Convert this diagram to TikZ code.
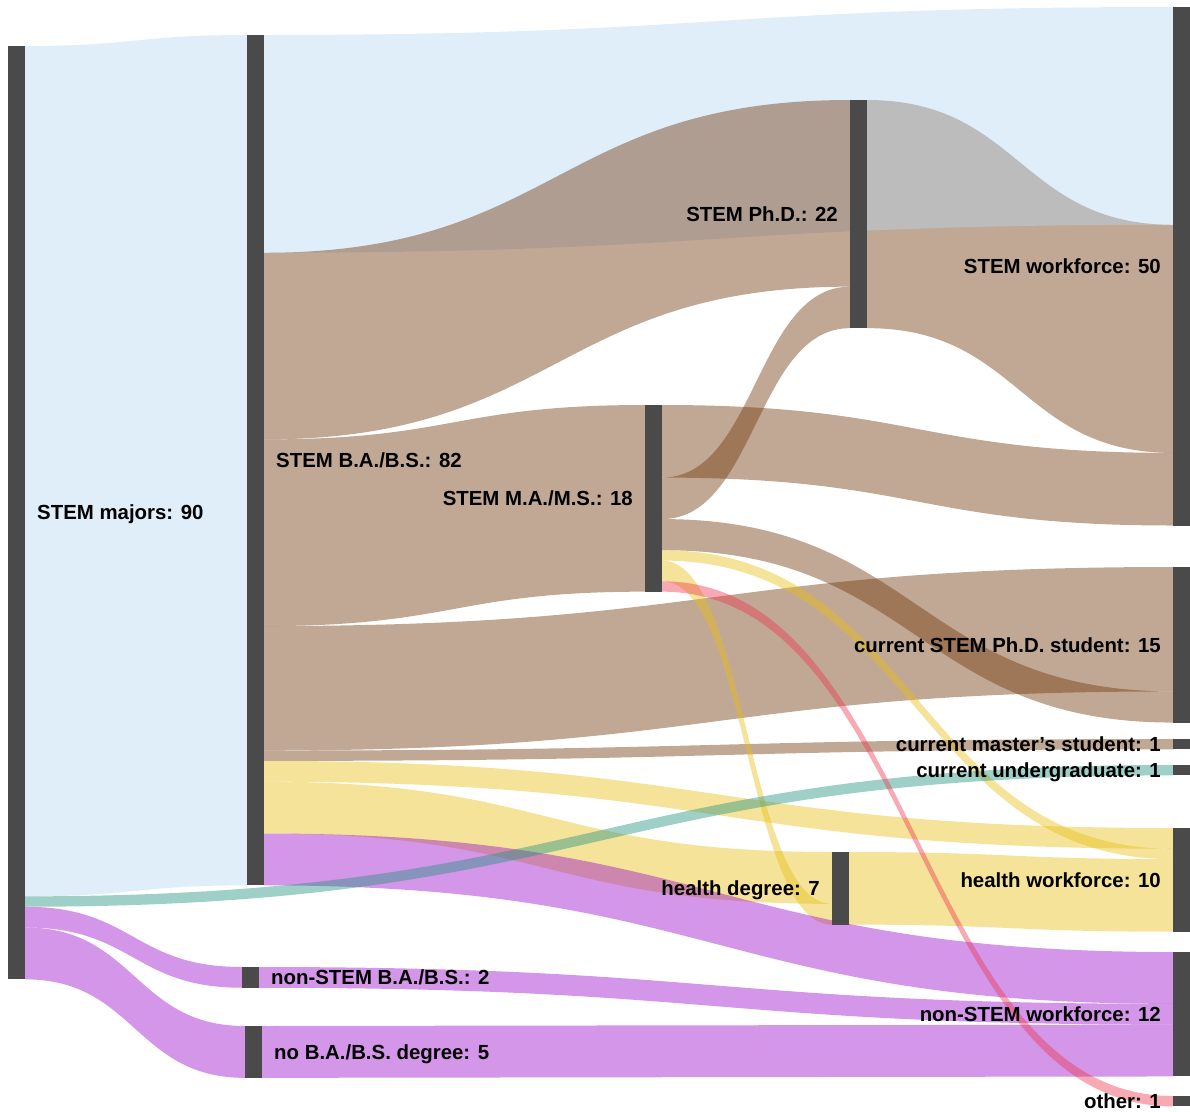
\documentclass[tikz,border=0pt]{standalone}
\usepackage{fontspec}
\setmainfont{Liberation Sans}
\usetikzlibrary{calc,positioning}
\pgfdeclarelayer{flows}
\pgfsetlayers{flows,main}

\definecolor{barGray}{RGB}{74,74,74}
\definecolor{flowBlue}{RGB}{183,215,241}
\definecolor{flowBrown}{RGB}{112,53,9}
\definecolor{flowYellow}{RGB}{232,190,20}
\definecolor{flowPurple}{RGB}{153,11,204}
\definecolor{flowGreen}{RGB}{32,146,127}
\definecolor{flowPink}{RGB}{239,57,81}

\def\un{10.37}
% #1 style, #2 source, #3 offset at source, #4 target, #5 offset at target, #6 value
\newcommand{\linkband}[6]{%
  \path (#2.north east) ++(0,#3*\un) coordinate (fa1) ++(0,#6*\un) coordinate (fa2)
        (#4.north west) ++(0,#5*\un) coordinate (fb1) ++(0,#6*\un) coordinate (fb2)
        ($(fa1)!0.5!(fb1)$) coordinate (fm);
  \fill[#1] (fa1) .. controls (fa1 -| fm) and (fb1 -| fm) .. (fb1)
    -- (fb2) .. controls (fb2 -| fm) and (fa2 -| fm) .. (fa2) -- cycle;}

\begin{document}
\begin{tikzpicture}[x=1pt, y=-1pt,
bar/.style={anchor=north west, minimum width=17pt, inner sep=0pt, outer sep=0pt, fill=barGray},
val/.style={minimum height=#1*\un*1pt},
lbl/.style={font=\fontsize{20.4}{24}\selectfont\bfseries, inner sep=0pt, text height=14.6pt, text depth=0pt},
blue/.style={fill=flowBlue, fill opacity=0.43},
brown/.style={fill=flowBrown, fill opacity=0.43},
yellow/.style={fill=flowYellow, fill opacity=0.43},
purple/.style={fill=flowPurple, fill opacity=0.43},
green/.style={fill=flowGreen, fill opacity=0.43},
pink/.style={fill=flowPink, fill opacity=0.43},
]
  \useasboundingbox (0,0) rectangle (1190,1111);

  \node[bar, val=90] (stemMajors) at (8,46) {};
  \node[bar, val=82] (stemBA) at (247,35) {};
  \node[bar, val=2] (nonStemBA) at (242,967) {};
  \node[bar, val=5] (noBA) at (245,1026) {};
  \node[bar, val=18] (stemMS) at (645,405) {};
  \node[bar, val=22] (stemPhD) at (850,100) {};
  \node[bar, val=7] (healthDeg) at (832,852) {};
  \node[bar, val=50] (stemWork) at (1173,7) {};
  \node[bar, val=15] (curPhD) at (1173,567) {};
  \node[bar, val=1] (curMS) at (1173,739) {};
  \node[bar, val=1] (curUG) at (1173,765) {};
  \node[bar, val=10] (healthWork) at (1173,828) {};
  \node[bar, val=12] (nonStemWork) at (1173,952) {};
  \node[bar, val=1] (other) at (1173,1096) {};

  \begin{pgfonlayer}{flows}
  \linkband{brown}{stemPhD}{0}{stemWork}{21}{22}
  \linkband{blue}{stemMajors}{0}{stemBA}{0}{82}
  \linkband{blue}{stemBA}{0}{stemWork}{0}{21}

  \linkband{brown}{stemBA}{21}{stemPhD}{0}{18}
  \linkband{brown}{stemBA}{39}{stemMS}{0}{18}
  \linkband{brown}{stemBA}{57}{curPhD}{0}{12}
  \linkband{brown}{stemBA}{69}{curMS}{0}{1}
  \linkband{brown}{stemMS}{0}{stemWork}{43}{7}
  \linkband{brown}{stemMS}{7}{stemPhD}{18}{4}
  \linkband{brown}{stemMS}{11}{curPhD}{12}{3}

  \linkband{yellow}{stemBA}{70}{healthWork}{0}{2}
  \linkband{yellow}{stemBA}{72}{healthDeg}{0}{5}
  \linkband{yellow}{stemMS}{14}{healthWork}{2}{1}
  \linkband{yellow}{stemMS}{15}{healthDeg}{5}{2}
  \linkband{yellow}{healthDeg}{0}{healthWork}{3}{7}

  \linkband{purple}{stemMajors}{83}{nonStemBA}{0}{2}
  \linkband{purple}{stemMajors}{85}{noBA}{0}{5}
  \linkband{purple}{stemBA}{77}{nonStemWork}{0}{5}
  \linkband{purple}{nonStemBA}{0}{nonStemWork}{5}{2}
  \linkband{purple}{noBA}{0}{nonStemWork}{7}{5}

  \linkband{green}{stemMajors}{82}{curUG}{0}{1}
  \linkband{pink}{stemMS}{17}{other}{0}{1}
  \end{pgfonlayer}

  \node[lbl, right=12pt of stemMajors] (stemMajorsLbl) {STEM majors: 90};
  \node[lbl, right=12pt of stemBA] (stemBALbl) {STEM B.A./B.S.: 82};
  \node[lbl, right=12pt of nonStemBA] (nonStemBALbl) {non-STEM B.A./B.S.: 2};
  \node[lbl, right=12pt of noBA] (noBALbl) {no B.A./B.S. degree: 5};
  \node[lbl, left=12pt of stemMS] (stemMSLbl) {STEM M.A./M.S.: 18};
  \node[lbl, left=12pt of stemPhD] (stemPhDLbl) {STEM Ph.D.: 22};
  \node[lbl, left=12pt of healthDeg] (healthDegLbl) {health degree: 7};
  \node[lbl, left=12pt of stemWork] (stemWorkLbl) {STEM workforce: 50};
  \node[lbl, left=12pt of curPhD] (curPhDLbl) {current STEM Ph.D. student: 15};
  \node[lbl, left=12pt of curMS] (curMSLbl) {current master’s student: 1};
  \node[lbl, left=12pt of curUG] (curUGLbl) {current undergraduate: 1};
  \node[lbl, left=12pt of healthWork] (healthWorkLbl) {health workforce: 10};
  \node[lbl, left=12pt of nonStemWork] (nonStemWorkLbl) {non-STEM workforce: 12};
  \node[lbl, left=12pt of other] (otherLbl) {other: 1};
\end{tikzpicture}
\end{document}
